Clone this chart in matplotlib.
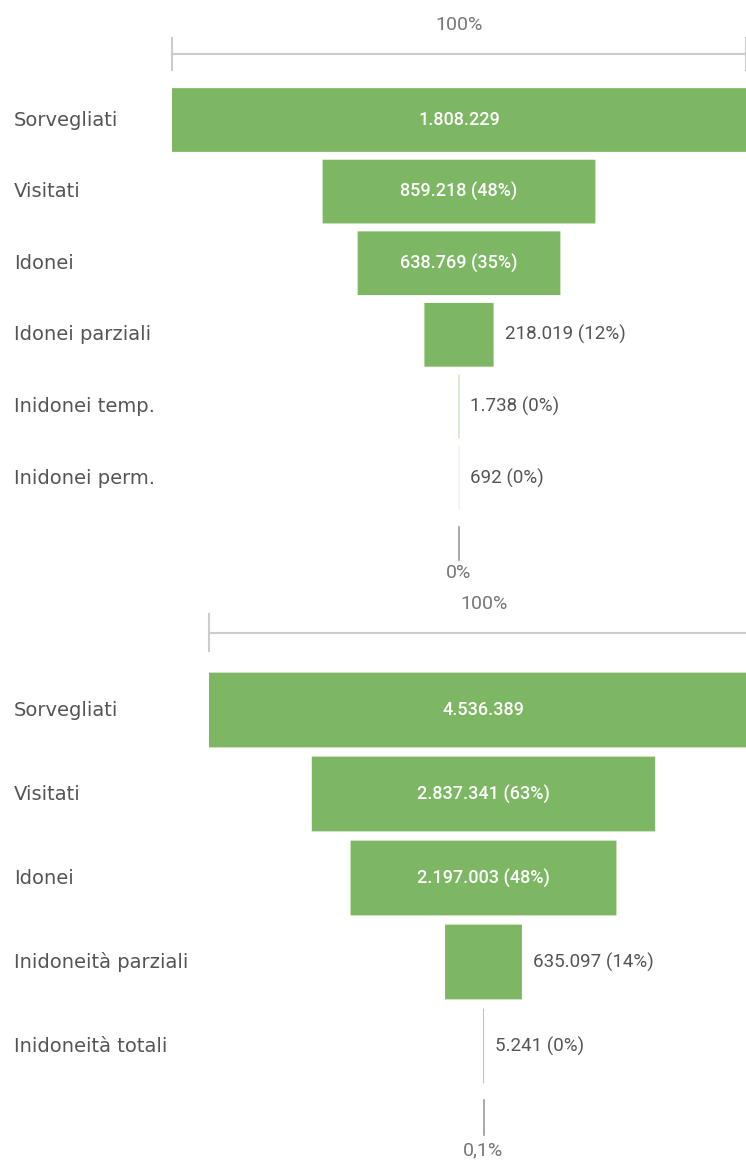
import matplotlib.pyplot as plt

plt.rcParams['font.family'] = ['Roboto', 'DejaVu Sans']

# top funnel
top_labels = ["Sorvegliati", "Visitati", "Idonei", "Idonei parziali", "Inidonei temp.", "Inidonei perm."]
top_values = [1808229, 859218, 638769, 218019, 1738, 692]
top_texts = ["1.808.229", "859.218 (48%)", "638.769 (35%)", "218.019 (12%)", "1.738 (0%)", "692 (0%)"]
top_scale = ["100%", "0%"]

# bottom funnel
bottom_labels = ["Sorvegliati", "Visitati", "Idonei", "Inidoneità parziali", "Inidoneità totali"]
bottom_values = [4536389, 2837341, 2197003, 635097, 5241]
bottom_texts = ["4.536.389", "2.837.341 (63%)", "2.197.003 (48%)", "635.097 (14%)", "5.241 (0%)"]
bottom_scale = ["100%", "0,1%"]

GREEN = "#7db764"
LABEL = "#555555"
SCALE = "#777777"
LINE = "#cccccc"

W, H = 746, 1161
fig = plt.figure(figsize=(W / 100, H / 100), dpi=100)


def funnel(ax, labels, values, texts, scale, ylim, label_x, line_y, tick_h, top_y, bot_tick, bot_y):
  vmax = values[0]
  ax.set_xlim(-vmax / 2, vmax / 2)
  ax.set_ylim(*ylim)
  ax.axis("off")
  for i, (lab, v, t) in enumerate(zip(labels, values, texts)):
    ax.barh(i, v, left=-v / 2, height=0.89, color=GREEN, edgecolor="none", snap=False)
    ax.text(label_x, i, lab, transform=ax.get_yaxis_transform(), ha="left", va="center",
            fontsize=14, color=LABEL, family="DejaVu Sans", clip_on=False)
    if v / vmax > 0.25:
      ax.text(0, i, t, ha="center", va="center", fontsize=13, color="white", fontweight="medium")
    else:
      ax.annotate(t, (v / 2, i), xytext=(8, 0), textcoords="offset points",
                  ha="left", va="center", fontsize=13.5, color=LABEL)
  # 100% scale line
  ax.plot([-vmax / 2, vmax / 2], [line_y, line_y], color=LINE, lw=1.5, clip_on=False)
  for x in (-vmax / 2, vmax / 2):
    ax.plot([x, x], [line_y - tick_h, line_y + tick_h], color=LINE, lw=1.5, clip_on=False)
  ax.text(0, top_y, scale[0], ha="center", va="center", fontsize=14, color=SCALE)
  # minimum tick
  ax.plot([0, 0], bot_tick, color="#999999", lw=1.2)
  ax.text(0, bot_y, scale[1], ha="center", va="center", fontsize=14, color=SCALE)


ax1 = fig.add_axes([172 / W, 1 - 590 / H, 574 / W, 590 / H])
funnel(ax1, top_labels, top_values, top_texts, top_scale,
       (6.564, -1.676), -0.275, -0.922, 0.224, -1.327, (5.684, 6.145), 6.327)

ax2 = fig.add_axes([209 / W, 0, 549 / W, 571 / H])
funnel(ax2, bottom_labels, bottom_values, bottom_texts, bottom_scale,
       (5.369, -1.4286), -0.355, -0.917, 0.22, -1.262, (4.643, 5.060), 5.238)

fig.savefig("out.png", dpi=100)
